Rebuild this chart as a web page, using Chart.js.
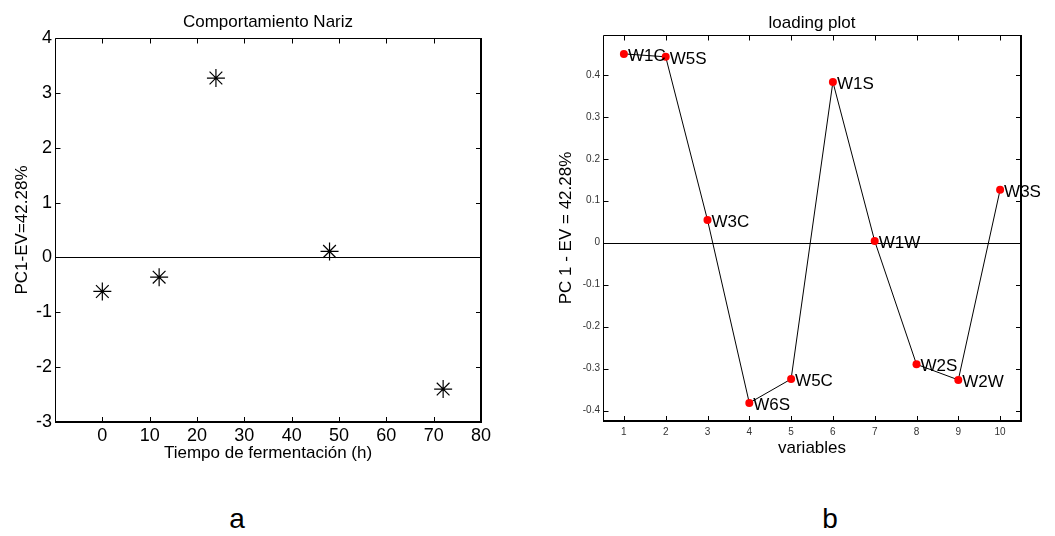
<!DOCTYPE html>
<html>
<head>
<meta charset="utf-8">
<script src="https://cdn.jsdelivr.net/npm/chart.js@4.4.1/dist/chart.umd.min.js"></script>
<style>
  body { margin: 0; background: #fff; }
  #lienzo { position: relative; width: 1055px; height: 536px; overflow: hidden; font-family: "Liberation Sans", Arial, sans-serif; }
  canvas { position: absolute; top: 0; }
  #nariz { left: 0; }
  #carga { left: 520px; }
  .letra { position: absolute; font-size: 28px; line-height: 1; color: #000; transform: translateX(-50%); }
</style>
</head>
<body>
<div id="lienzo">
  <canvas id="nariz" width="520" height="470"></canvas>
  <canvas id="carga" width="535" height="470"></canvas>
  <div class="letra" style="left:237px; top:505px;">a</div>
  <div class="letra" style="left:830px; top:505px;">b</div>
</div>
<script>
// (a) PC1 scores vs fermentation time
const horas = [0, 12, 24, 48, 72];
const pc1 = [-0.62, -0.36, 3.27, 0.11, -2.40];
const horasTicks = [0, 10, 20, 30, 40, 50, 60, 70, 80];
const pc1Ticks = [-3, -2, -1, 0, 1, 2, 3, 4];

// (b) PC1 loadings per sensor
const variables = [1, 2, 3, 4, 5, 6, 7, 8, 9, 10];
const sensores = ['W1C', 'W5S', 'W3C', 'W6S', 'W5C', 'W1S', 'W1W', 'W2S', 'W2W', 'W3S'];
const cargas = [0.450, 0.443, 0.054, -0.382, -0.325, 0.383, 0.004, -0.290, -0.327, 0.126];
const cargaTicks = [-0.4, -0.3, -0.2, -0.1, 0, 0.1, 0.2, 0.3, 0.4];

Chart.defaults.font.family = '"Liberation Sans", Arial, sans-serif';
Chart.defaults.color = '#000';

// matlab-style box: frame, inward ticks, zero line and title
const marco = {
  id: 'marco',
  beforeDatasetsDraw(chart) {
    const { ctx, chartArea: a, scales } = chart;
    const y0 = Math.round(scales.y.getPixelForValue(0)) + 0.5;
    ctx.save();
    ctx.strokeStyle = '#000';
    ctx.lineWidth = 1;
    ctx.beginPath();
    ctx.moveTo(a.left, y0);
    ctx.lineTo(a.right, y0);
    ctx.stroke();
    ctx.restore();
  },
  afterDatasetsDraw(chart, args, opts) {
    const { ctx, chartArea: a, scales } = chart;
    const L = Math.round(a.left) + 0.5, R = Math.round(a.right), T = Math.round(a.top) + 0.5, B = Math.round(a.bottom);
    ctx.save();
    ctx.strokeStyle = '#000';
    ctx.lineWidth = 1;
    ctx.beginPath();
    ctx.moveTo(L, B); ctx.lineTo(L, T); ctx.lineTo(R, T);
    ctx.stroke();
    ctx.lineWidth = 2;
    ctx.beginPath();
    ctx.moveTo(L - 0.5, B); ctx.lineTo(R, B); ctx.lineTo(R, T - 0.5);
    ctx.stroke();

    ctx.lineWidth = 1;
    ctx.beginPath();
    scales.x.ticks.forEach(t => {
      const px = Math.round(scales.x.getPixelForValue(t.value)) + 0.5;
      ctx.moveTo(px, B); ctx.lineTo(px, B - 5);
      ctx.moveTo(px, T); ctx.lineTo(px, T + 5);
    });
    scales.y.ticks.forEach(t => {
      const py = Math.round(scales.y.getPixelForValue(t.value)) + 0.5;
      ctx.moveTo(L, py); ctx.lineTo(L + 5, py);
      ctx.moveTo(R, py); ctx.lineTo(R - 5, py);
    });
    ctx.stroke();

    ctx.fillStyle = '#000';
    ctx.font = '17px "Liberation Sans", Arial, sans-serif';
    ctx.textAlign = 'center';
    ctx.textBaseline = 'alphabetic';
    ctx.fillText(opts.titulo, (a.left + a.right) / 2, a.top - opts.alto);
    ctx.restore();
  }
};

// sensor names next to each loading point
const etiquetas = {
  id: 'etiquetas',
  afterDatasetsDraw(chart, args, opts) {
    if (!opts.nombres) return;
    const { ctx } = chart;
    const meta = chart.getDatasetMeta(0);
    ctx.save();
    ctx.fillStyle = '#000';
    ctx.font = '17px "Liberation Sans", Arial, sans-serif';
    ctx.textAlign = 'left';
    ctx.textBaseline = 'alphabetic';
    meta.data.forEach((p, i) => {
      ctx.fillText(opts.nombres[i], p.x + 4, p.y + 7);
    });
    ctx.restore();
  }
};

Chart.register(marco, etiquetas);

const fijarTicks = lista => s => { s.ticks = lista.map(v => ({ value: v })); };

new Chart(document.getElementById('nariz'), {
  type: 'scatter',
  data: {
    datasets: [{
      data: horas.map((h, i) => ({ x: h, y: pc1[i] })),
      pointStyle: 'star',
      pointRadius: 9,
      borderColor: '#000',
      backgroundColor: '#000',
      borderWidth: 1.2
    }]
  },
  options: {
    responsive: false,
    animation: false,
    layout: { padding: { top: 38, right: 39, left: 0, bottom: 0 } },
    plugins: {
      legend: { display: false },
      tooltip: { enabled: false },
      marco: { titulo: 'Comportamiento Nariz', alto: 11.5 }
    },
    scales: {
      x: {
        type: 'linear', min: -10, max: 80,
        afterBuildTicks: fijarTicks(horasTicks),
        afterFit: s => { s.height = 48; },
        grid: { display: false, drawTicks: false },
        border: { display: false },
        ticks: { padding: 3, font: { size: 18 }, color: '#000', maxRotation: 0 },
        title: { display: true, text: 'Tiempo de fermentación (h)', font: { size: 17 }, color: '#000', padding: { top: 0, bottom: 6 } }
      },
      y: {
        min: -3, max: 4,
        afterBuildTicks: fijarTicks(pc1Ticks),
        afterFit: s => { s.width = 55; },
        grid: { display: false, drawTicks: false },
        border: { display: false },
        ticks: { padding: 3, font: { size: 18 }, color: '#000' },
        title: { display: true, text: 'PC1-EV=42.28%', font: { size: 17 }, color: '#000', padding: { top: 12, bottom: 0 } }
      }
    }
  }
});

new Chart(document.getElementById('carga'), {
  type: 'scatter',
  data: {
    datasets: [{
      data: variables.map((v, i) => ({ x: v, y: cargas[i] })),
      showLine: true,
      borderColor: '#000',
      borderWidth: 1,
      pointRadius: 4,
      pointBorderWidth: 0,
      pointBackgroundColor: '#ff0000',
      pointBorderColor: '#ff0000'
    }]
  },
  options: {
    responsive: false,
    animation: false,
    layout: { padding: { top: 35, right: 34, left: 0, bottom: 0 } },
    plugins: {
      legend: { display: false },
      tooltip: { enabled: false },
      marco: { titulo: 'loading plot', alto: 7 },
      etiquetas: { nombres: sensores }
    },
    scales: {
      x: {
        type: 'linear', min: 0.5, max: 10.5,
        afterBuildTicks: fijarTicks(variables),
        afterFit: s => { s.height = 49; },
        grid: { display: false, drawTicks: false },
        border: { display: false },
        ticks: { padding: 5, font: { size: 10 }, color: '#333', maxRotation: 0 },
        title: { display: true, text: 'variables', font: { size: 17 }, color: '#000', padding: { top: 0, bottom: 11 } }
      },
      y: {
        min: -0.425, max: 0.495,
        afterBuildTicks: fijarTicks(cargaTicks),
        afterFit: s => { s.width = 83; },
        grid: { display: false, drawTicks: false },
        border: { display: false },
        ticks: { padding: 3, font: { size: 10 }, color: '#333', callback: v => v === 0 ? '0' : v.toFixed(1) },
        title: { display: true, text: 'PC 1 - EV = 42.28%', font: { size: 17 }, color: '#000', padding: { top: 36, bottom: 0 } }
      }
    }
  }
});
</script>
</body>
</html>
